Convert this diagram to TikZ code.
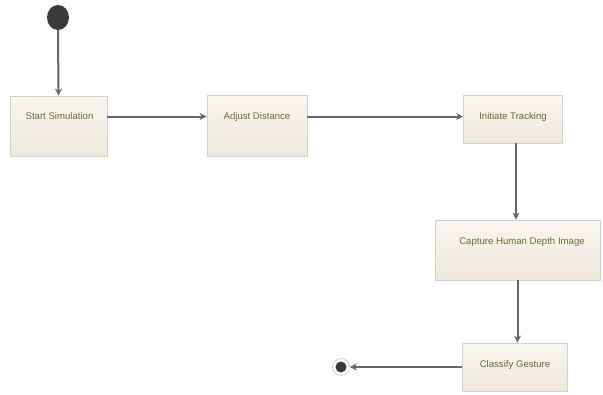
\documentclass[tikz,border=0pt]{standalone}
\usepackage{fontspec}
\setmainfont{Liberation Sans}
\usetikzlibrary{arrows.meta,shapes.geometric}
\definecolor{boxtop}{HTML}{F8F6F0}
\definecolor{boxbot}{HTML}{EEE8DC}
\definecolor{boxline}{HTML}{D6D1C6}
\definecolor{labelcol}{HTML}{6E6A2E}
\definecolor{flow}{HTML}{666666}
\definecolor{dot}{HTML}{3A3A3A}
\tikzset{
  state/.style={draw=boxline, line width=0.8pt, top color=boxtop, bottom color=boxbot,
    minimum width=#1, inner sep=0pt},
  statelabel/.style={text=labelcol, font=\fontsize{9.6}{11}\selectfont, anchor=center},
  flowline/.style={draw=flow, line width=2pt, -{Stealth[length=7pt,width=7pt]}}
}
\begin{document}
\begin{tikzpicture}[x=1pt,y=-1pt]
  \useasboundingbox (0,0) rectangle (603,394);
  % initial pseudo-state
  \node (init) [ellipse, fill=dot, minimum width=22pt, minimum height=25pt, inner sep=0pt] at (58,17.5) {};
  % action states
  \node (s1) [state=97pt, minimum height=60pt] at (58.5,126) {};
  \node (s2) [state=100pt, minimum height=61pt] at (257,125.5) {};
  \node (s3) [state=99pt, minimum height=48pt] at (513,119) {};
  \node (s4) [state=165pt, minimum height=60pt] at (517.5,250) {};
  \node (s5) [state=105pt, minimum height=48pt] at (514.5,367) {};
  \node (t1) [statelabel] at (59.5,116.5) {Start Simulation};
  \node (t2) [statelabel] at (257,117) {Adjust Distance};
  \node (t3) [statelabel] at (513,117) {Initiate Tracking};
  \node (t4) [statelabel] at (522,242) {Capture Human Depth Image};
  \node (t5) [statelabel] at (515,365) {Classify Gesture};
  % final state
  \node (final) [circle, draw=boxline, line width=0.8pt, fill=white, minimum size=17pt, inner sep=0pt] at (341,367) {};
  \node (finalcore) [circle, fill=dot, minimum size=11pt, inner sep=0pt] at (final.center) {};
  % transitions
  \draw[flowline] (init.south) -- (s1.north);
  \draw[flowline] (s1.east |- t1) -- (s2.west |- t1);
  \draw[flowline] (s2.east |- t1) -- (s3.west |- t1);
  \coordinate (c3) at ([xshift=-6pt]s3.south -| t4.center);
  \draw[flowline] (c3) -- (c3 |- s4.north);
  \draw[flowline] (s4.south) -- (s4.south |- s5.north);
  \draw[flowline] (s5.west |- final) -- (final.east);
\end{tikzpicture}
\end{document}
